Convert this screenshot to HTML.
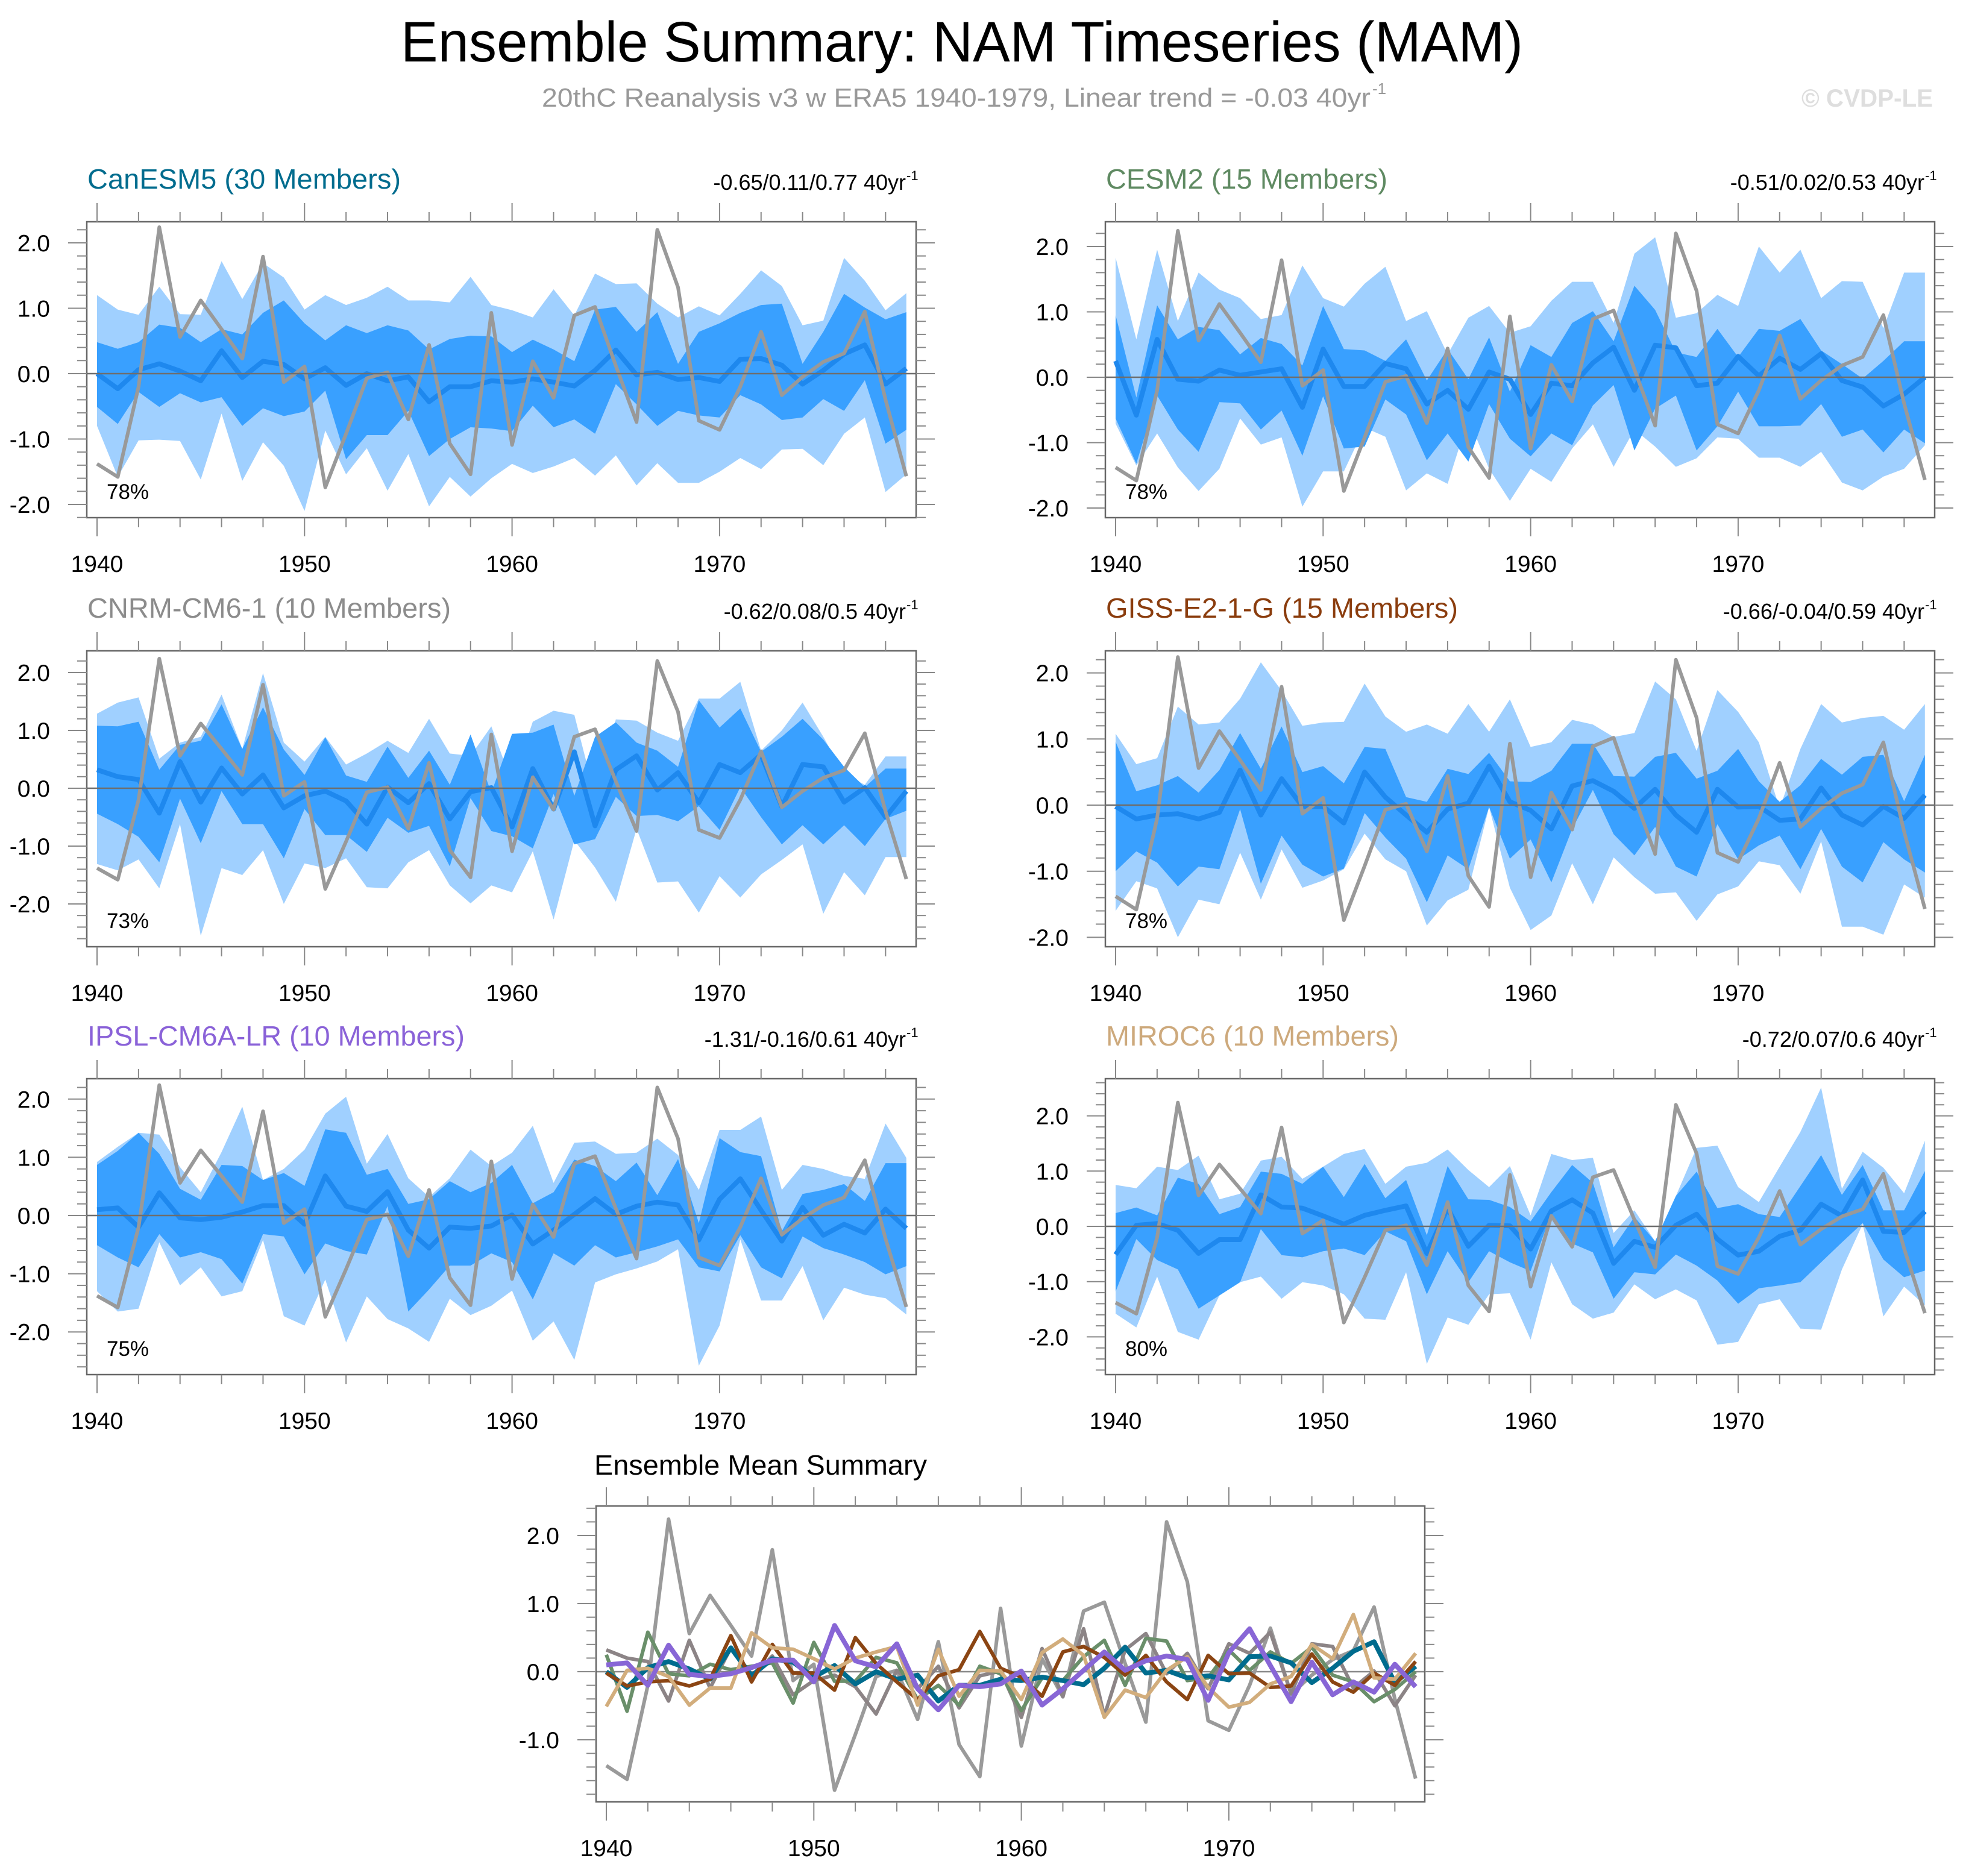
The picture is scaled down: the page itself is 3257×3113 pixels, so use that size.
<!DOCTYPE html>
<html><head><meta charset="utf-8"><title>Ensemble Summary: NAM Timeseries (MAM)</title>
<style>html,body{margin:0;padding:0;background:#fff;}svg{display:block;font-family:"Liberation Sans",Arial,sans-serif;}</style>
</head><body>
<svg id="chart" xmlns="http://www.w3.org/2000/svg" width="3257" height="3113" viewBox="0 0 3257 3113">
<rect width="3257" height="3113" fill="#fff"/>
<text x="665" y="102" font-size="95" textLength="1862" lengthAdjust="spacingAndGlyphs">Ensemble Summary: NAM Timeseries (MAM)</text>
<text x="899" y="177" font-size="44" fill="#999" textLength="1375" lengthAdjust="spacingAndGlyphs">20thC Reanalysis v3 w ERA5 1940-1979, Linear trend = -0.03 40yr</text>
<text x="2277" y="156" font-size="26" fill="#999">-1</text>
<text x="2989" y="177" font-size="42" font-weight="bold" fill="#dedede" textLength="218" lengthAdjust="spacingAndGlyphs">© CVDP-LE</text>
<g id="plots"></g>
</svg>
<script>
const years = [1940,1941,1942,1943,1944,1945,1946,1947,1948,1949,1950,1951,1952,1953,1954,1955,1956,1957,1958,1959,1960,1961,1962,1963,1964,1965,1966,1967,1968,1969,1970,1971,1972,1973,1974,1975,1976,1977,1978,1979];
const obs = [-1.38,-1.58,-0.2,2.24,0.56,1.12,0.68,0.23,1.79,-0.13,0.11,-1.74,-0.92,-0.07,0.02,-0.7,0.44,-1.07,-1.54,0.93,-1.09,0.19,-0.37,0.89,1.02,0.12,-0.74,2.2,1.32,-0.72,-0.86,-0.2,0.64,-0.33,-0.05,0.18,0.31,0.95,-0.4,-1.57];
const yTicks = [-2,-1,0,1,2];
const yTickLabels = ["-2.0","-1.0","0.0","1.0","2.0"];
const xTicks = [1940,1950,1960,1970];

const canMean = [0,-0.23,0.06,0.15,0.04,-0.11,0.35,-0.06,0.19,0.14,-0.08,0.09,-0.18,0,-0.11,-0.05,-0.43,-0.2,-0.2,-0.11,-0.13,-0.08,-0.13,-0.19,0.05,0.36,-0.02,0.02,-0.09,-0.06,-0.12,0.22,0.23,0.13,-0.16,0.05,0.3,0.44,-0.16,0.08];
const canP75 = [0.48,0.38,0.48,0.75,0.7,0.48,0.68,0.6,0.93,1.12,0.77,0.51,0.74,0.62,0.74,0.66,0.37,0.53,0.58,0.57,0.33,0.52,0.37,0.19,0.98,1.02,0.64,0.94,0.15,0.64,0.77,0.93,1.05,1.07,0.15,0.64,1.22,1.01,0.83,0.94];
const canP25 = [-0.51,-0.77,-0.28,-0.51,-0.3,-0.44,-0.36,-0.8,-0.53,-0.65,-0.58,-0.26,-1.31,-0.94,-0.94,-0.57,-1.26,-1.0,-0.82,-0.84,-0.88,-0.49,-0.82,-0.7,-0.92,-0.16,-0.47,-0.8,-0.57,-0.64,-0.67,-0.33,-0.47,-0.71,-0.67,-0.39,-0.57,-0.1,-1.07,-0.86];
const canP90 = [1.2,0.98,0.9,1.33,0.91,0.9,1.72,1.14,1.69,1.47,0.98,1.2,1.05,1.16,1.33,1.12,1.12,1.09,1.48,1.05,0.97,0.86,1.29,0.89,1.53,1.37,1.38,1.07,0.86,1.03,0.89,1.22,1.58,1.34,0.74,0.81,1.77,1.42,0.97,1.23];
const canP10 = [-0.8,-1.58,-1.02,-1.01,-1.03,-1.62,-0.61,-1.64,-1.05,-1.41,-2.1,-0.87,-1.54,-1.14,-1.79,-1.23,-2.03,-1.58,-1.88,-1.6,-1.38,-1.52,-1.42,-1.29,-1.56,-1.25,-1.71,-1.37,-1.67,-1.67,-1.5,-1.29,-1.46,-1.16,-1.15,-1.4,-0.92,-0.67,-1.81,-1.54];

const cesmMean = [0.25,-0.58,0.58,-0.03,-0.06,0.11,0.03,0.08,0.13,-0.46,0.43,-0.14,-0.14,0.21,0.13,-0.41,-0.2,-0.49,0.08,-0.03,-0.57,-0.09,-0.13,0.22,0.46,-0.2,0.49,0.45,-0.13,-0.09,0.32,0.02,0.29,0.12,0.36,-0.05,-0.15,-0.44,-0.26,0];
const cesmP75 = [0.95,-0.31,1.1,0.58,0.77,0.72,0.35,0.6,0.51,0.18,1.09,0.43,0.41,0.25,0.58,-0.05,0.43,-0.03,0.61,-0.22,0.49,0.31,0.83,1.01,0.55,1.4,1.03,0.38,0.31,0.74,0.31,0.74,0.71,0.89,0.41,0.2,-0.02,0.25,0.55,0.55];
const cesmP25 = [-0.63,-1.32,-0.28,-0.8,-1.14,-0.38,-0.4,-0.8,-0.51,-1.2,-0.29,-1.09,-1.06,-0.34,-0.57,-1.27,-0.86,-1.29,-0.41,-0.94,-1.21,-0.86,-1.04,-0.43,-0.12,-1.12,-0.48,-0.28,-1.12,-0.75,-0.22,-0.75,-0.75,-0.74,-0.41,-0.91,-0.8,-1.15,-0.8,-1.01];
const cesmP90 = [1.83,0.58,1.95,0.86,1.6,1.34,1.21,0.89,0.95,1.71,1.21,1.08,1.43,1.69,0.86,1.01,0.35,0.91,1.09,0.68,0.78,1.17,1.46,1.46,0.83,1.89,2.14,0.91,0.98,1.26,1.09,2.0,1.6,1.95,1.21,1.47,1.46,0.75,1.6,1.6];
const cesmP10 = [-0.71,-1.35,-0.86,-1.38,-1.74,-1.4,-0.63,-1.03,-0.92,-1.98,-1.44,-1.44,-0.77,-0.91,-1.73,-1.47,-1.63,-0.63,-1.4,-1.89,-1.4,-1.6,-1.09,-0.72,-1.37,-0.8,-1.06,-1.37,-1.24,-0.92,-0.94,-1.23,-1.23,-1.37,-1.14,-1.61,-1.73,-1.52,-1.4,-1.04];

const cnrmMean = [0.32,0.2,0.15,-0.43,0.46,-0.24,0.35,-0.1,0.23,-0.34,-0.13,-0.05,-0.22,-0.62,0.02,-0.25,0.08,-0.53,-0.06,0.01,-0.67,0.34,-0.36,0.63,-0.65,0.32,0.56,-0.03,0.27,-0.25,0.41,0.27,0.58,-0.32,0.41,0.37,-0.24,0.01,-0.5,-0.05];
const cnrmP75 = [1.08,1.07,1.15,0.32,0.75,0.82,1.45,0.68,1.4,0.67,0.23,0.88,0.22,0.11,0.72,0.18,0.65,0.06,0.93,-0.08,0.94,0.96,1.1,-0.13,0.89,1.14,0.79,0.65,0.37,1.52,1.05,1.38,0.63,0.89,1.2,0.84,0.37,0.02,0.34,0.34];
const cnrmP25 = [-0.44,-0.62,-0.84,-1.28,-0.18,-0.95,-0.05,-0.62,-0.62,-1.21,-0.36,-0.81,-0.81,-1.1,-0.51,-0.77,-0.65,-1.35,-0.17,-0.74,-0.83,-1.04,-0.1,-0.97,-0.88,-0.15,-0.48,-0.46,-0.57,-0.31,-0.72,0.02,-0.5,-0.97,-0.64,-0.97,-0.64,-1.0,-0.53,-0.39];
const cnrmP90 = [1.29,1.48,1.57,0.51,0.79,0.89,1.62,0.68,1.99,0.79,0.46,0.89,0.41,0.6,0.82,0.61,1.2,0.6,0.56,1.07,0.09,1.15,1.34,1.27,-0.13,1.19,1.17,0.96,0.82,1.55,1.55,1.84,0.65,1.0,1.48,0.89,0.25,0.06,0.55,0.55];
const cnrmP10 = [-1.31,-1.42,-1.23,-1.73,-0.62,-2.55,-1.38,-1.5,-1.07,-2.0,-1.3,-1.38,-1.21,-1.71,-1.73,-1.28,-1.07,-1.68,-1.99,-1.68,-1.8,-1.09,-2.27,-0.9,-1.37,-1.96,-0.7,-1.63,-1.61,-2.15,-1.52,-1.89,-1.49,-1.24,-0.97,-2.17,-1.45,-1.85,-1.19,-1.19];

const gissMean = [-0.02,-0.21,-0.15,-0.13,-0.21,-0.11,0.53,-0.15,0.4,-0.02,-0.02,-0.27,0.5,0.12,-0.15,-0.41,-0.06,0.03,0.59,0.05,-0.08,-0.36,0.29,0.37,0.21,-0.05,0.24,-0.15,-0.41,0.24,-0.03,-0.02,-0.23,-0.21,0.26,-0.15,-0.3,-0.02,-0.2,0.15];
const gissP75 = [0.96,0.21,0.3,0.44,0.19,0.53,1.09,0.55,1.19,0.5,0.59,0.33,0.88,0.85,0.12,0.05,0.55,0.47,0.79,0.36,0.35,0.52,0.93,0.93,0.44,0.43,0.73,0.79,0.4,0.52,0.85,0.36,0.05,0.3,0.7,0.46,0.73,0.76,0.06,0.76];
const gissP25 = [-1.0,-0.7,-0.87,-1.23,-0.93,-0.97,-0.06,-1.19,-0.46,-0.9,-1.08,-0.96,-0.12,-0.49,-0.81,-1.47,-0.76,-0.97,-0.03,-0.81,-0.52,-1.17,-0.36,0.23,-0.44,-0.76,-0.33,-0.93,-1.08,-0.29,-0.82,-0.61,-0.46,-0.97,-0.36,-0.93,-1.17,-0.56,-0.82,-1.02];
const gissP90 = [1.08,0.62,0.71,1.49,1.22,1.25,1.61,2.16,1.73,1.2,1.25,1.26,1.84,1.34,1.11,1.22,1.08,1.53,1.11,1.6,0.88,0.95,1.29,1.22,1.03,1.09,1.87,1.6,0.82,1.74,1.41,0.95,-0.05,0.85,1.53,1.25,1.32,1.35,1.14,1.53];
const gissP10 = [-1.6,-1.15,-1.26,-2.0,-1.43,-1.5,-0.72,-1.43,-0.67,-1.25,-1.14,-0.97,-0.43,-0.82,-1.0,-1.82,-1.44,-1.28,-0.03,-1.25,-1.89,-1.67,-0.88,-1.5,-0.79,-1.09,-1.34,-1.32,-1.75,-1.35,-1.23,-0.85,-0.91,-1.34,-0.55,-1.84,-1.84,-1.96,-1.2,-1.4];

const ipslMean = [0.1,0.13,-0.2,0.39,-0.04,-0.07,-0.03,0.06,0.17,0.17,-0.15,0.68,0.16,0.07,0.41,-0.25,-0.56,-0.2,-0.22,-0.18,0.01,-0.49,-0.25,0.02,0.29,0.02,0.16,0.23,0.18,-0.42,0.28,0.63,0.09,-0.44,0.14,-0.34,-0.15,-0.3,0.11,-0.22];
const ipslP75 = [0.87,1.11,1.42,1.06,0.46,0.27,0.87,0.85,0.61,0.73,0.51,1.48,1.42,0.7,0.8,0.2,0.28,0.59,0.4,0.56,0.87,0.21,0.4,0.96,0.85,0.59,0.91,0.35,0.97,-0.13,1.33,1.09,1.02,-0.27,0.37,0.44,0.54,0.25,0.9,0.9];
const ipslP25 = [-0.51,-0.72,-0.89,-0.32,-0.72,-0.63,-0.75,-1.17,-0.32,-0.36,-1.01,-0.48,-0.61,-0.67,0.16,-1.65,-1.27,-0.86,-0.86,-0.65,-0.8,-1.44,-0.65,-0.86,-0.51,-0.72,-0.63,-0.53,-0.41,-0.89,-0.96,-0.34,-0.89,-1.08,-0.36,-0.56,-0.67,-0.8,-1.01,-0.87];
const ipslP90 = [0.92,1.18,1.42,1.39,0.83,0.4,1.09,1.87,0.61,0.8,1.13,1.75,2.04,0.89,1.4,0.64,0.32,0.64,1.13,0.85,1.08,1.54,0.56,1.25,1.27,1.06,1.08,1.32,1.04,0.44,1.47,1.47,1.7,0.44,0.87,0.8,0.68,0.63,1.58,0.99];
const ipslP10 = [-1.3,-1.65,-1.6,-0.46,-1.2,-0.89,-1.39,-1.3,-0.42,-1.73,-1.89,-1.1,-2.18,-1.39,-1.78,-1.94,-2.17,-1.43,-1.71,-1.55,-1.29,-2.15,-1.82,-2.48,-1.15,-1.01,-0.91,-0.79,-0.58,-2.58,-1.89,-0.41,-1.46,-1.46,-0.87,-1.8,-1.24,-1.36,-1.42,-1.7];

const mirocMean = [-0.51,0.02,0.05,-0.07,-0.49,-0.24,-0.24,0.57,0.35,0.33,0.19,0.04,0.2,0.29,0.37,-0.49,0.33,-0.36,0.02,0.01,-0.41,0.28,0.48,0.24,-0.67,-0.27,-0.38,0.02,0.22,-0.23,-0.52,-0.45,-0.18,-0.07,0.4,0.19,0.84,-0.09,-0.11,0.27];
const mirocP75 = [0.24,0.34,0.2,0.88,0.77,0.22,0.35,0.99,0.95,0.77,1.08,0.53,1.13,0.51,0.84,-0.16,1.09,0.49,0.48,0.35,0.09,0.62,1.11,0.79,-0.38,0.17,-0.27,0.55,0.99,0.33,0.4,0.22,0.17,0.73,1.29,0.57,1.11,0.29,0.29,1.0];
const mirocP25 = [-1.18,-0.23,-0.61,-0.78,-1.49,-1.25,-1.01,-0.05,-0.52,-0.56,-0.45,-0.4,-0.52,-0.09,-0.27,-1.23,-0.45,-1.01,-0.45,-0.65,-0.81,0.24,-0.31,-0.47,-1.31,-0.83,-0.87,-0.51,-0.71,-0.98,-1.4,-1.12,-1.07,-1.01,-0.65,-0.29,0.06,-0.6,-0.92,-0.8];
const mirocP90 = [0.75,0.69,1.08,1.02,1.28,0.49,0.59,1.19,1.26,0.86,1.08,1.31,1.4,0.77,1.08,1.15,1.39,1.02,0.71,1.09,0.2,1.31,1.2,1.24,-0.12,0.29,-0.27,0.55,1.42,1.46,0.71,0.44,1.08,1.71,2.51,0.68,1.35,1.06,0.6,1.55];
const mirocP10 = [-1.58,-1.83,-0.91,-1.91,-2.05,-1.25,-1.01,-0.91,-1.31,-1.01,-1.07,-1.23,-1.67,-1.69,-0.83,-2.49,-1.65,-1.78,-1.23,-1.21,-2.05,-0.65,-1.41,-1.67,-1.56,-1.05,-1.32,-1.14,-1.34,-2.14,-2.09,-1.41,-1.32,-1.85,-1.87,-0.78,0.04,-1.63,-1.09,-1.43];

// ---------- rendering ----------
const NS = "http://www.w3.org/2000/svg";
const root = document.getElementById("plots");
function mk(tag, attrs, parent) {
  const e = document.createElementNS(NS, tag);
  for (const k in attrs) e.setAttribute(k, attrs[k]);
  (parent || root).appendChild(e);
  return e;
}
const YEAR_PX = 34.43;

const panels = [
  {key:"canesm5", title:"CanESM5 (30 Members)", color:"#006c8e", stats:"-0.65/0.11/0.77 40yr", pct:"78%", mean:canMean, p25:canP25, p75:canP75, p10:canP10, p90:canP90, x0:144, y0:368, zero:620, unit:108.5, tw:520},
  {key:"cesm2", title:"CESM2 (15 Members)", color:"#5f8a62", stats:"-0.51/0.02/0.53 40yr", pct:"78%", mean:cesmMean, p25:cesmP25, p75:cesmP75, p10:cesmP10, p90:cesmP90, x0:1834, y0:368, zero:626, unit:108.5, tw:467},
  {key:"cnrm-cm6-1", title:"CNRM-CM6-1 (10 Members)", color:"#8c8c8c", stats:"-0.62/0.08/0.5 40yr", pct:"73%", mean:cnrmMean, p25:cnrmP25, p75:cnrmP75, p10:cnrmP10, p90:cnrmP90, x0:144, y0:1080, zero:1308, unit:96, tw:603},
  {key:"giss-e2-1-g", title:"GISS-E2-1-G (15 Members)", color:"#8b3d0e", stats:"-0.66/-0.04/0.59 40yr", pct:"78%", mean:gissMean, p25:gissP25, p75:gissP75, p10:gissP10, p90:gissP90, x0:1834, y0:1080, zero:1336, unit:109.7, tw:584},
  {key:"ipsl-cm6a-lr", title:"IPSL-CM6A-LR (10 Members)", color:"#8a62d8", stats:"-1.31/-0.16/0.61 40yr", pct:"75%", mean:ipslMean, p25:ipslP25, p75:ipslP75, p10:ipslP10, p90:ipslP90, x0:144, y0:1790, zero:2017, unit:96.6, tw:626},
  {key:"miroc6", title:"MIROC6 (10 Members)", color:"#cda97c", stats:"-0.72/0.07/0.6 40yr", pct:"80%", mean:mirocMean, p25:mirocP25, p75:mirocP75, p10:mirocP10, p90:mirocP90, x0:1834, y0:1790, zero:2035, unit:91.7, tw:486}
];
const meanLineColors = {canesm5:"#006c8e", cesm2:"#6a8f6a", "cnrm-cm6-1":"#8c8486", "giss-e2-1-g":"#8b4513", "ipsl-cm6a-lr":"#8866d6", miroc6:"#d2ad7c"};

function drawAxes(g, P, W, H, xStart, zero, unit, labelEdge, key) {
  const xs = v => xStart + (v - 1940) * YEAR_PX;
  const ys = v => zero - v * unit;
  for (let yr = 1940; yr <= 1979; yr += 2) {
    const major = yr % 10 === 0;
    const L = major ? 31 : 16;
    const t1 = mk("line", {x1:xs(yr), x2:xs(yr), y1:P.y0 + H, y2:P.y0 + H + L, stroke:"#888", "stroke-width":2}, g);
    
    
    const t2 = mk("line", {x1:xs(yr), x2:xs(yr), y1:P.y0, y2:P.y0 - L, stroke:"#888", "stroke-width":2}, g);
    
    
  }
  xTicks.forEach(yr => {
    const t = mk("text", {x:xs(yr), y:P.y0 + H + 90, "font-size":39, "text-anchor":"middle"}, g);
    t.textContent = String(yr);
    
    
  });
  const vTop = (zero - P.y0) / unit, vBot = (zero - P.y0 - H) / unit;
  for (let k = Math.ceil(vBot * 5); k <= Math.floor(vTop * 5); k++) {
    const v = k / 5;
    const major = k % 5 === 0;
    const L = major ? 31 : 16;
    const yy = ys(v);
    const a = mk("line", {x1:P.x0 - L, x2:P.x0, y1:yy, y2:yy, stroke:"#888", "stroke-width":2}, g);
    
    
    const b = mk("line", {x1:P.x0 + W, x2:P.x0 + W + L, y1:yy, y2:yy, stroke:"#888", "stroke-width":2}, g);
    
    
  }
  yTicks.forEach((v, i) => {
    if (v > vTop || v < vBot) return;
    const t = mk("text", {x:labelEdge, y:ys(v) + 14, "font-size":39, "text-anchor":"end"}, g);
    t.textContent = yTickLabels[i];
    
    
  });
}

function pathOf(arr, xs, ys) {
  return arr.map((v, i) => (i ? "L" : "M") + xs(years[i]).toFixed(1) + "," + ys(v).toFixed(1)).join(" ");
}
function bandOf(up, lo, xs, ys) {
  let d = up.map((v, i) => (i ? "L" : "M") + xs(years[i]).toFixed(1) + "," + ys(v).toFixed(1)).join(" ");
  for (let i = lo.length - 1; i >= 0; i--) d += " L" + xs(years[i]).toFixed(1) + "," + ys(lo[i]).toFixed(1);
  return d + " Z";
}

const W = 1376, H = 491;
panels.forEach((P, idx) => {
  const g = mk("g", {});
  
  
  const xStart = P.x0 + 17;
  const xs = v => xStart + (v - 1940) * YEAR_PX;
  const ys = v => P.zero - v * P.unit;
  const clipId = "clip" + idx;
  const cp = mk("clipPath", {id:clipId}, g);
  mk("rect", {x:P.x0, y:P.y0, width:W, height:H}, cp);
  const plot = mk("g", {"clip-path":"url(#" + clipId + ")"}, g);
  const b1 = mk("path", {d:bandOf(P.p90, P.p10, xs, ys), fill:"#a0d0ff"}, plot);
  
  
  const b2 = mk("path", {d:bandOf(P.p75, P.p25, xs, ys), fill:"#39a0ff"}, plot);
  
  
  const m = mk("path", {d:pathOf(P.mean, xs, ys), fill:"none", stroke:"#1e88ee", "stroke-width":8, "stroke-linejoin":"round"}, plot);
  
  
  const o = mk("path", {d:pathOf(obs, xs, ys), fill:"none", stroke:"#999", "stroke-width":6, "stroke-linejoin":"round"}, plot);
  
  
  const z = mk("line", {x1:P.x0, x2:P.x0 + W, y1:ys(0), y2:ys(0), stroke:"#6e6e6e", "stroke-width":2.5}, plot);
  
  
  const box = mk("rect", {x:P.x0, y:P.y0, width:W, height:H, fill:"none", stroke:"#666", "stroke-width":2.5}, g);
  
  
  drawAxes(g, P, W, H, xStart, P.zero, P.unit, P.x0 - 61, P.key);
  const t = mk("text", {x:P.x0 + 1, y:P.y0 - 55, "font-size":46, fill:P.color, textLength:P.tw, lengthAdjust:"spacingAndGlyphs"}, g);
  t.textContent = P.title;
  
  
  const s = mk("text", {x:P.x0 + W - 17, y:P.y0 - 53, "font-size":36, "text-anchor":"end"}, g);
  s.textContent = P.stats;
  
  
  const sp = mk("text", {x:P.x0 + W - 16, y:P.y0 - 69, "font-size":22}, g);
  sp.textContent = "-1";
  
  
  const pc = mk("text", {x:P.x0 + 33, y:P.y0 + H - 31, "font-size":35}, g);
  pc.textContent = P.pct;
  
  
});

// ---------- bottom summary ----------
(function(){
  const B = {x0:989, y0:2499, zero:2774, unit:113};
  const BW = 1375, BH = 491;
  const g = mk("g", {});
  
  
  const xStart = 1006;
  const xs = v => xStart + (v - 1940) * YEAR_PX;
  const ys = v => B.zero - v * B.unit;
  const cp = mk("clipPath", {id:"clipB"}, g);
  mk("rect", {x:B.x0, y:B.y0, width:BW, height:BH}, cp);
  const plot = mk("g", {"clip-path":"url(#clipB)"}, g);
  const z = mk("line", {x1:B.x0, x2:B.x0 + BW, y1:ys(0), y2:ys(0), stroke:"#888", "stroke-width":2.5}, plot);
  
  
  const o = mk("path", {d:pathOf(obs, xs, ys), fill:"none", stroke:"#9a9a9a", "stroke-width":6, "stroke-linejoin":"round"}, plot);
  
  
  const order = [2, 1, 0, 3, 5, 4];
  order.forEach(i => {
    const P = panels[i];
    const l = mk("path", {d:pathOf(P.mean, xs, ys), fill:"none", stroke:meanLineColors[P.key], "stroke-width":i === 0 || i === 4 ? 8 : 6, "stroke-linejoin":"round"}, plot);
    
    
  });
  const box = mk("rect", {x:B.x0, y:B.y0, width:BW, height:BH, fill:"none", stroke:"#666", "stroke-width":2.5}, g);
  
  
  drawAxes(g, B, BW, BH, xStart, B.zero, B.unit, B.x0 - 61, "summary");
  const t = mk("text", {x:986, y:2447, "font-size":46, textLength:552, lengthAdjust:"spacingAndGlyphs"}, g);
  t.textContent = "Ensemble Mean Summary";
  
  
})();
</script>
</body></html>
